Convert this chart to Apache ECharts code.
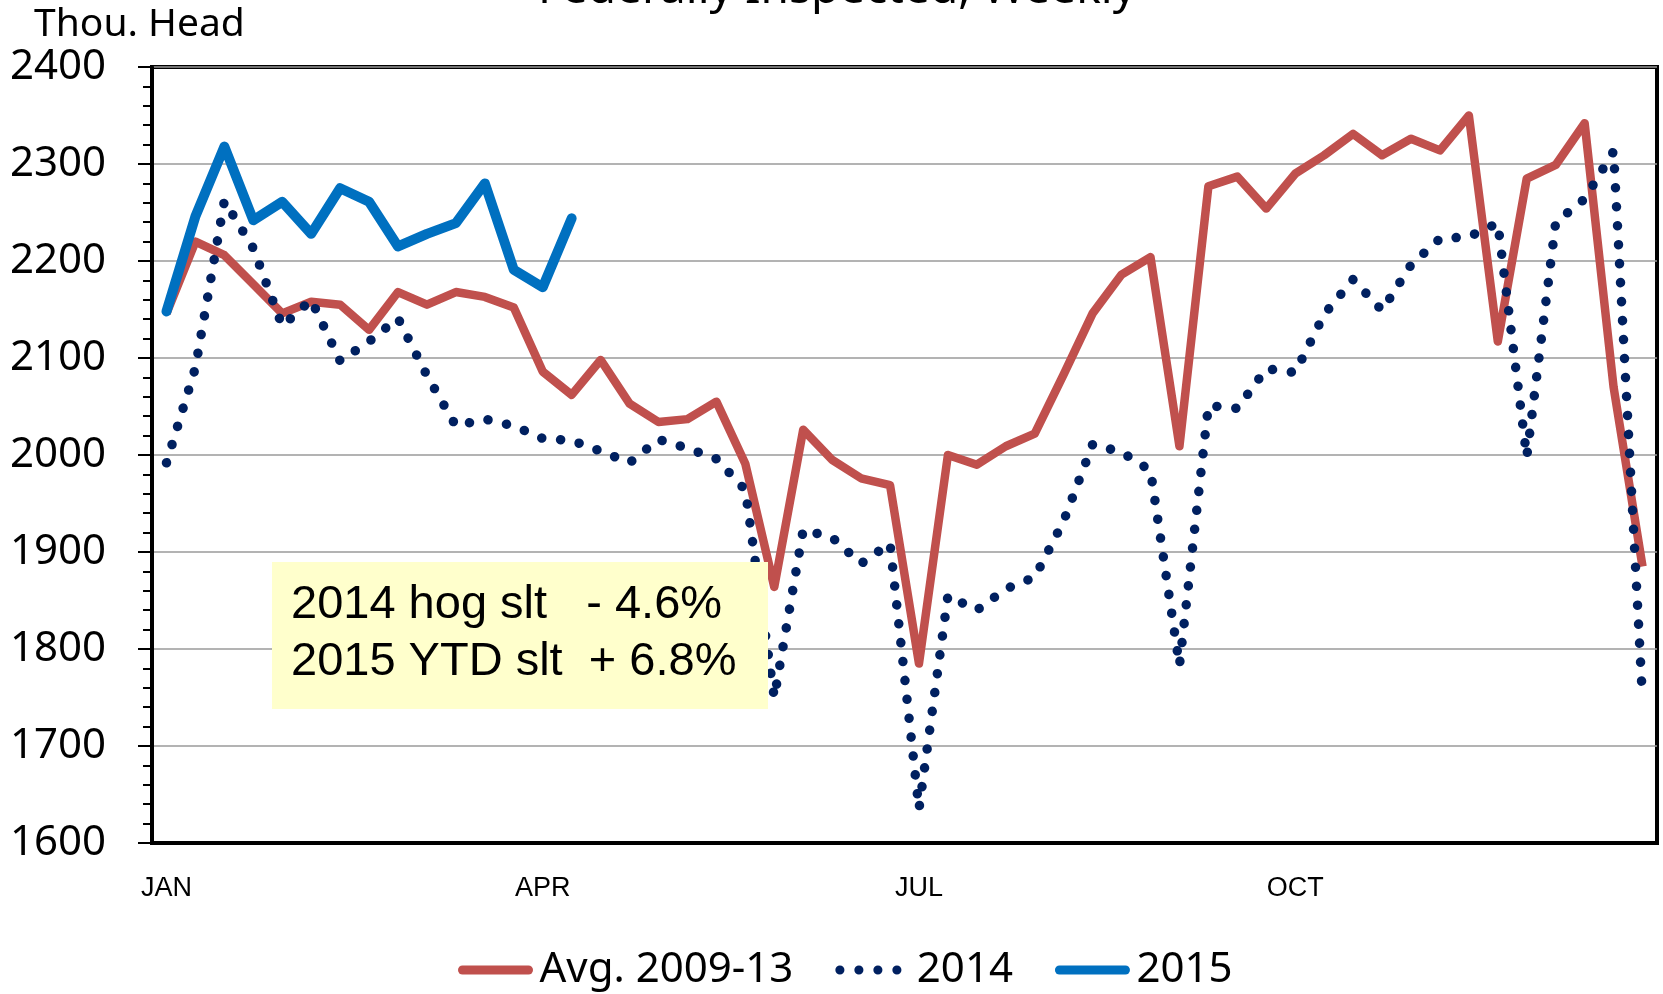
<!DOCTYPE html>
<html>
<head>
<meta charset="utf-8">
<title>Federally Inspected, Weekly</title>
<script src="https://cdn.jsdelivr.net/npm/echarts@6/dist/echarts.min.js"></script>
<style>
  html, body { margin: 0; padding: 0; background: #fff; }
  #chart { width: 1663px; height: 994px; }
</style>
</head>
<body>
<div id="chart"></div>
<script>
// weekly hog slaughter, federally inspected, thou. head
const weeks = [1, 2, 3, 4, 5, 6, 7, 8, 9, 10, 11, 12, 13, 14, 15, 16, 17, 18, 19, 20,
    21, 22, 23, 24, 25, 26, 27, 28, 29, 30, 31, 32, 33, 34, 35, 36, 37, 38, 39, 40,
    41, 42, 43, 44, 45, 46, 47, 48, 49, 50, 51, 52];
const monthWeeks = [1, 14, 27, 40];
const monthLabels = ['JAN', 'APR', 'JUL', 'OCT'];

const avg0913 = [2146, 2220, 2206, 2176, 2146, 2158, 2155, 2129, 2168, 2155,
    2168, 2163, 2152, 2086, 2062, 2098, 2053, 2034, 2037, 2055,
    1991, 1864, 2026, 1995, 1976, 1969, 1785, 2000, 1990, 2009,
    2022, 2083, 2146, 2186, 2204, 2009, 2277, 2287, 2254, 2290,
    2309, 2331, 2309, 2326, 2314, 2350, 2117, 2285, 2299, 2342,
    2070, 1885];
const y2014 = [1992, 2090, 2262, 2213, 2133, 2160, 2097, 2117, 2141, 2082,
    2030, 2037, 2030, 2017, 2015, 2004, 1992, 2016, 2007, 1996,
    1964, 1750, 1923, 1915, 1888, 1909, 1635, 1855, 1840, 1862,
    1874, 1932, 2011, 2003, 1984, 1783, 2051, 2048, 2089, 2085,
    2145, 2181, 2149, 2196, 2223, 2225, 2239, 1998, 2240, 2264,
    2313, 1748];
const y2015 = [2148, 2246, 2318, 2242, 2261, 2228, 2275, 2261, 2215, 2228,
    2239, 2280, 2191, 2173, 2244];

const yMin = 1600, yMax = 2400, yStep = 100;

const font = 'Noto Sans';
const myChart = echarts.init(document.getElementById('chart'));

myChart.setOption({
    animation: false,
    grid: {
        left: 152, right: 6, top: 67, bottom: 151,
        show: true, borderColor: '#000', borderWidth: 4
    },
    legend: {
        data: ['Avg. 2009-13', '2014', '2015'],
        left: 453, top: 944,
        itemWidth: 66, itemHeight: 14, itemGap: 42,
        itemStyle: { opacity: 0 },
        lineStyle: { width: 9, cap: 'round' },
        textStyle: { fontFamily: font, fontSize: 42, color: '#000', padding: [0, 0, 0, 6] }
    },
    xAxis: {
        type: 'category',
        data: weeks,
        boundaryGap: true,
        axisLine: { lineStyle: { color: '#000', width: 4 } },
        axisTick: { interval: 0, length: 10, lineStyle: { color: '#000', width: 2 } },
        axisLabel: {
            interval: 0, margin: 32,
            fontFamily: 'Liberation Sans', fontSize: 27, color: '#000',
            formatter: (value, index) => {
                const k = monthWeeks.indexOf(weeks[index]);
                return k >= 0 ? monthLabels[k] : '';
            }
        },
        splitLine: { show: false }
    },
    yAxis: {
        type: 'value',
        min: yMin, max: yMax, interval: yStep,
        axisLine: { show: true, lineStyle: { color: '#000', width: 4 } },
        axisTick: { show: true, length: 14, lineStyle: { color: '#000', width: 2 } },
        minorTick: { show: true, splitNumber: 5, length: 9, lineStyle: { color: '#000', width: 2 } },
        axisLabel: {
            margin: 46, fontFamily: font, fontSize: 42, color: '#000',
            formatter: v => String(v)
        },
        splitLine: { lineStyle: { color: '#9a9a9a', width: 1.5 } }
    },
    series: [
        {
            name: 'Avg. 2009-13', type: 'line', data: avg0913,
            symbol: 'none',
            itemStyle: { color: '#C0504D' },
            lineStyle: { color: '#C0504D', width: 8.5, join: 'round' }
        },
        {
            name: '2014', type: 'line', data: y2014,
            symbol: 'none',
            itemStyle: { color: '#002060' },
            lineStyle: { color: '#002060', width: 9.5, type: [0.1, 18.9], cap: 'round', join: 'round' }
        },
        {
            name: '2015', type: 'line', data: y2015,
            symbol: 'none',
            itemStyle: { color: '#0070C0' },
            lineStyle: { color: '#0070C0', width: 10, cap: 'round', join: 'round' }
        }
    ],
    graphic: [
        {
            type: 'text', z: 100,
            style: {
                text: 'Federally Inspected, Weekly', x: 837, y: 13,
                font: '46px "Noto Sans"', fill: '#000',
                textAlign: 'center', textVerticalAlign: 'bottom'
            }
        },
        {
            type: 'text', z: 100,
            style: {
                text: 'Thou. Head', x: 34, y: 25,
                font: '39px "Noto Sans"', fill: '#000',
                textAlign: 'left', textVerticalAlign: 'middle'
            }
        },
        {
            type: 'rect', z: 100,
            shape: { x: 272, y: 562, width: 496, height: 147 },
            style: { fill: '#FFFFCC' }
        },
        {
            type: 'text', z: 101,
            style: {
                text: '2014 hog slt   - 4.6%', x: 291, y: 605,
                font: '47px "Liberation Sans"', fill: '#000',
                textAlign: 'left', textVerticalAlign: 'middle'
            }
        },
        {
            type: 'text', z: 101,
            style: {
                text: '2015 YTD slt  + 6.8%', x: 291, y: 662,
                font: '47px "Liberation Sans"', fill: '#000',
                textAlign: 'left', textVerticalAlign: 'middle'
            }
        }
    ]
});
</script>
</body>
</html>
